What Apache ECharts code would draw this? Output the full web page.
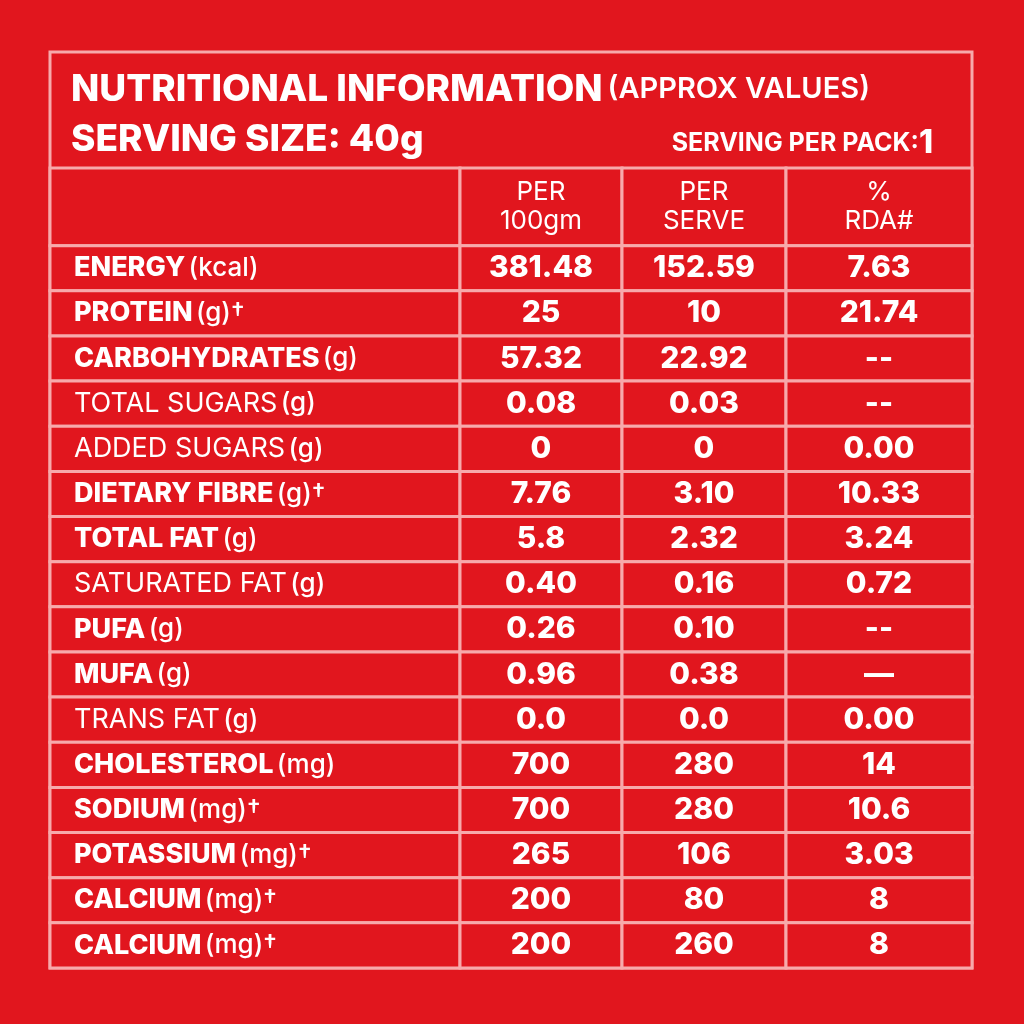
<!DOCTYPE html>
<html><head><meta charset="utf-8">
<script src="https://cdn.jsdelivr.net/npm/echarts@6/dist/echarts.min.js"></script>
<style>html,body{margin:0;padding:0;background:#e1161e}#chart{width:1024px;height:1024px}</style>
</head><body><div id="chart"></div>
<script>
var headers = ['', 'PER\n100gm', 'PER\nSERVE', '%\nRDA#'];
var nutrients = ['ENERGY', 'PROTEIN', 'CARBOHYDRATES', 'TOTAL SUGARS', 'ADDED SUGARS', 'DIETARY FIBRE', 'TOTAL FAT', 'SATURATED FAT', 'PUFA', 'MUFA', 'TRANS FAT', 'CHOLESTEROL', 'SODIUM', 'POTASSIUM', 'CALCIUM', 'CALCIUM'];
var units = ['(kcal)', '(g)\u2020', '(g)', '(g)', '(g)', '(g)\u2020', '(g)', '(g)', '(g)', '(g)', '(g)', '(mg)', '(mg)\u2020', '(mg)\u2020', '(mg)\u2020', '(mg)\u2020'];
var boldRow = [1,1,1,0,0,1,1,0,1,1,0,1,1,1,1,1];
var per100 = ['381.48','25','57.32','0.08','0','7.76','5.8','0.40','0.26','0.96','0.0','700','700','265','200','200'];
var perServe = ['152.59','10','22.92','0.03','0','3.10','2.32','0.16','0.10','0.38','0.0','280','280','106','80','260'];
var rda = ['7.63','21.74','--','--','0.00','10.33','3.24','0.72','--','\u2014','0.00','14','10.6','3.03','8','8'];

// layout (pixels in x axis units, row heights in y units)
var colEdges = [0, 410, 572, 736, 922];
var headerH = 1.72;

var cells = [];
for (var c = 0; c < 4; c++) cells.push([c, 0, headerH, headers[c], 'h']);
nutrients.forEach(function (n, i) {
  var y0 = headerH + i, y1 = y0 + 1;
  cells.push([0, y0, y1, '{' + (boldRow[i] ? 'b' : 'n') + '|' + n + '} {u|' + units[i] + '}', 'l']);
  cells.push([1, y0, y1, per100[i], 'v']);
  cells.push([2, y0, y1, perServe[i], 'v']);
  cells.push([3, y0, y1, rda[i], 'v']);
});

var pink = '#f7a9ab';
var font = 'Inter, "Open Sans", sans-serif';
var myChart = echarts.init(document.getElementById('chart'));
myChart.setOption({
  backgroundColor: '#e1161e',
  animation: false,
  title: [
    { left: 66, top: 66, text: '{a|NUTRITIONAL INFORMATION} {b|(APPROX VALUES)}',
      textStyle: { rich: {
        a: { fontFamily: font, fontWeight: 800, fontSize: 37, color: '#fff' },
        b: { fontFamily: font, fontWeight: 600, fontSize: 29, color: '#fff' } } } },
    { left: 66, top: 116, text: 'SERVING SIZE: 40g',
      textStyle: { fontFamily: font, fontWeight: 800, fontSize: 37, color: '#fff' } },
    { right: 86, top: 122, text: '{a|SERVING PER PACK:}{b|1}',
      textStyle: { rich: {
        a: { fontFamily: font, fontWeight: 700, fontSize: 25, color: '#fff' },
        b: { fontFamily: font, fontWeight: 800, fontSize: 32, color: '#fff' } } } }
  ],
  graphic: [{ type: 'rect', shape: { x: 50, y: 52, width: 922, height: 916 },
    style: { fill: 'none', stroke: pink, lineWidth: 3 } }],
  grid: { left: 50, right: 52, top: 168, bottom: 56 },
  xAxis: { type: 'value', min: 0, max: 922, show: false },
  yAxis: { type: 'value', min: 0, max: headerH + nutrients.length, inverse: true, show: false },
  series: [{
    type: 'custom',
    data: cells,
    renderItem: function (params, api) {
      var c = api.value(0);
      var p0 = api.coord([colEdges[c], api.value(1)]);
      var p1 = api.coord([colEdges[c + 1], api.value(2)]);
      var kind = cells[params.dataIndex][4];
      var txt = cells[params.dataIndex][3];
      var w = p1[0] - p0[0], h = p1[1] - p0[1];
      var ts;
      if (kind === 'l') {
        ts = { x: p0[0] + 24, y: p0[1] + h / 2, text: txt, align: 'left', verticalAlign: 'middle',
          rich: {
            b: { fontFamily: font, fontWeight: 800, fontSize: 27, fill: '#fff' },
            n: { fontFamily: font, fontWeight: 400, fontSize: 27, fill: '#fff' },
            u: { fontFamily: font, fontWeight: 500, fontSize: 26, fill: '#fff' } } };
      } else if (kind === 'h') {
        ts = { x: p0[0] + w / 2, y: p0[1] + h / 2, text: txt, align: 'center', verticalAlign: 'middle',
          fontFamily: font, fontWeight: 400, fontSize: 26, lineHeight: 29, fill: '#fff' };
      } else {
        ts = { x: p0[0] + w / 2, y: p0[1] + h / 2, text: txt, align: 'center', verticalAlign: 'middle',
          fontFamily: font, fontWeight: 800, fontSize: 30, fill: '#fff' };
      }
      return { type: 'group', children: [
        { type: 'rect', shape: { x: p0[0], y: p0[1], width: w, height: h },
          style: { fill: '#e1161e', stroke: pink, lineWidth: 3 } },
        { type: 'text', style: ts }
      ] };
    }
  }]
});
</script></body></html>
